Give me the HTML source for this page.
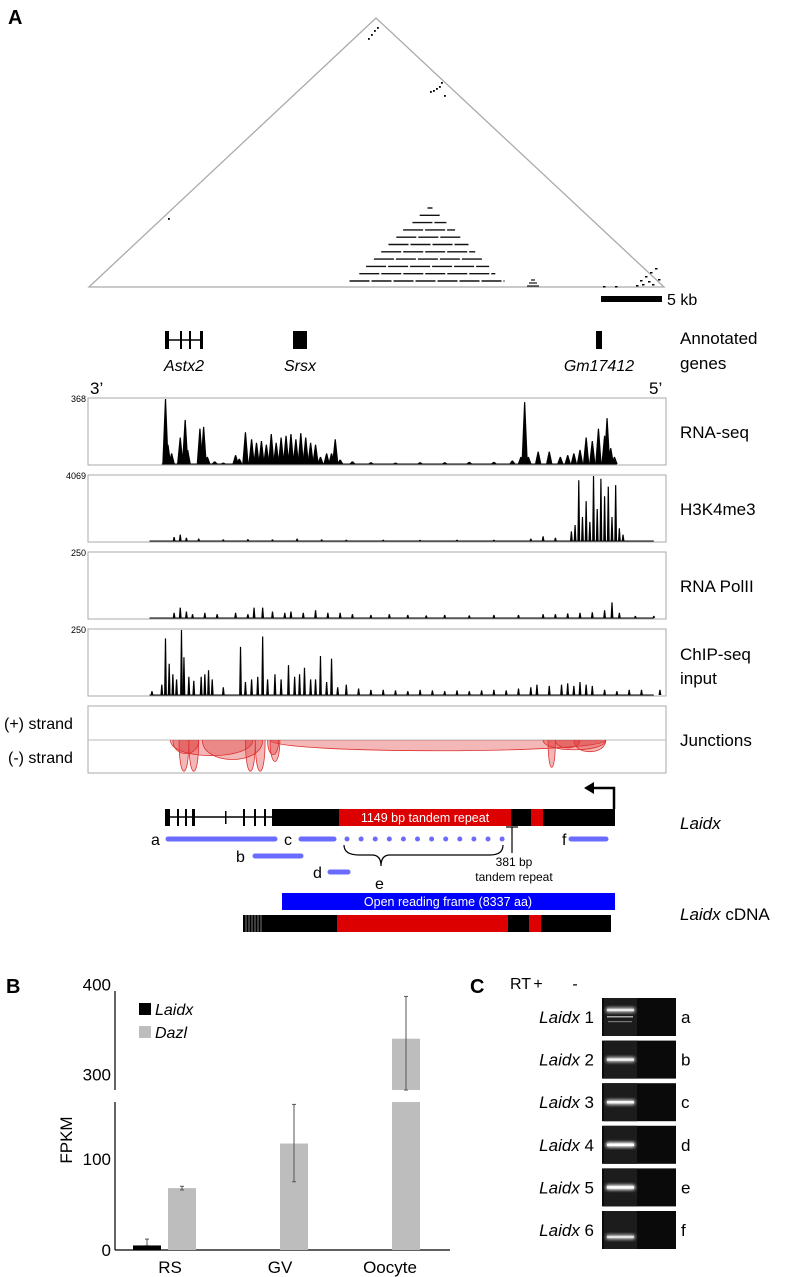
<!DOCTYPE html>
<html><head><meta charset="utf-8">
<style>
html,body{margin:0;padding:0;background:#fff;}
svg{display:block;font-family:"Liberation Sans",sans-serif;}
</style></head>
<body>
<svg id="fig" width="800" height="1277" viewBox="0 0 800 1277" xmlns="http://www.w3.org/2000/svg">
<defs>
<filter id="blur1" x="-20%" y="-50%" width="140%" height="200%"><feGaussianBlur stdDeviation="1.6"/></filter>
</defs>
<!-- Panel A -->
<text x="8" y="24" font-size="20" font-weight="bold">A</text>
<g id="hic">
<polygon points="89,287 376,18 664,287" fill="none" stroke="#aaa" stroke-width="1.3"/>
</g>
<rect x="601" y="296" width="61" height="6" fill="#000"/>
<text x="667" y="305" font-size="16">5 kb</text>

<g>
<rect x="165" y="331" width="4" height="18" fill="#000"/>
<line x1="165" y1="340" x2="203" y2="340" stroke="#000" stroke-width="1.5"/>
<rect x="180" y="331" width="2" height="18" fill="#000"/>
<rect x="189" y="331" width="2" height="18" fill="#000"/>
<rect x="200" y="331" width="3" height="18" fill="#000"/>
<rect x="293" y="331" width="14" height="18" fill="#000"/>
<rect x="596" y="331" width="6" height="18" fill="#000"/>
<text x="184" y="371" font-size="16" font-style="italic" text-anchor="middle">Astx2</text>
<text x="300" y="371" font-size="16" font-style="italic" text-anchor="middle">Srsx</text>
<text x="599" y="371" font-size="16" font-style="italic" text-anchor="middle">Gm17412</text>
</g>
<text x="680" y="344" font-size="17">Annotated</text>
<text x="680" y="369" font-size="17">genes</text>
<text x="90" y="394" font-size="17">3’</text>
<text x="649" y="394" font-size="17">5’</text>

<g id="tracks"></g>
<text x="680" y="438" font-size="17">RNA-seq</text>
<text x="680" y="515" font-size="17">H3K4me3</text>
<text x="680" y="592" font-size="17">RNA PolII</text>
<text x="680" y="660" font-size="17">ChIP-seq</text>
<text x="680" y="684" font-size="17">input</text>

<g id="junctions">
<rect x="88" y="706" width="578" height="67" fill="none" stroke="#aaa" stroke-width="1"/>
<line x1="88" y1="740" x2="666" y2="740" stroke="#bbb" stroke-width="1"/>
</g>
<text x="4" y="729" font-size="16">(+) strand</text>
<text x="8" y="763" font-size="16">(-) strand</text>
<text x="680" y="746" font-size="17">Junctions</text>

<!-- Laidx gene model -->
<g>
<polyline points="614,809 614,788 592,788" fill="none" stroke="#000" stroke-width="2.5"/>
<polygon points="584,788 594,782 594,794" fill="#000"/>
<line x1="165" y1="817" x2="272" y2="817" stroke="#000" stroke-width="1.5"/>
<rect x="165" y="809" width="5" height="17" fill="#000"/>
<rect x="177" y="809" width="2" height="17" fill="#000"/>
<rect x="185" y="809" width="2" height="17" fill="#000"/>
<rect x="192" y="809" width="3" height="17" fill="#000"/>
<rect x="225" y="811" width="1.5" height="13" fill="#000"/>
<rect x="243" y="809" width="2" height="17" fill="#000"/>
<rect x="254" y="809" width="2" height="17" fill="#000"/>
<rect x="264" y="809" width="2" height="17" fill="#000"/>
<rect x="272" y="809" width="343" height="17" fill="#000"/>
<rect x="339" y="809" width="172" height="17" fill="#dd0000"/>
<rect x="531" y="809" width="12" height="17" fill="#dd0000"/>
<text x="425" y="822" font-size="12.5" fill="#fff" text-anchor="middle">1149 bp tandem repeat</text>
</g>
<g stroke="#6b6bff" stroke-width="5" stroke-linecap="round">
<line x1="168" y1="839" x2="275" y2="839"/>
<line x1="301" y1="839" x2="334" y2="839"/>
<line x1="571" y1="839" x2="606" y2="839"/>
<line x1="255" y1="856" x2="301" y2="856"/>
<line x1="330" y1="872" x2="348" y2="872"/>
<line x1="347" y1="839" x2="504" y2="839" stroke-dasharray="0 14.1"/>
</g>
<g font-size="16">
<text x="151" y="845">a</text><text x="236" y="862">b</text><text x="284" y="845">c</text>
<text x="313" y="878">d</text><text x="375" y="889">e</text><text x="562" y="845">f</text>
</g>
<path d="M344,845 Q344,855 359,855 L372,855 Q381,855 381,866 Q381,855 390,855 L490,855 Q503,855 503,845" fill="none" stroke="#000" stroke-width="1.2"/>
<line x1="512" y1="827" x2="512" y2="853" stroke="#000" stroke-width="1.2"/>
<line x1="506" y1="827" x2="518" y2="827" stroke="#000" stroke-width="1.2"/>
<text x="514" y="866" font-size="12" text-anchor="middle">381 bp</text>
<text x="514" y="881" font-size="12" text-anchor="middle">tandem repeat</text>
<text x="680" y="829" font-size="17" font-style="italic">Laidx</text>

<rect x="282" y="893" width="333" height="17" fill="#0000ff"/>
<text x="448" y="906" font-size="12.5" fill="#fff" text-anchor="middle">Open reading frame (8337 aa)</text>
<g>
<rect x="243" y="915" width="368" height="17" fill="#000"/>
<rect x="337" y="915" width="171" height="17" fill="#dd0000"/>
<rect x="529" y="915" width="12" height="17" fill="#dd0000"/>
<g stroke="#ccc" stroke-width="0.6"><line x1="246" y1="915" x2="246" y2="932"/><line x1="249" y1="915" x2="249" y2="932"/><line x1="252" y1="915" x2="252" y2="932"/><line x1="255" y1="915" x2="255" y2="932"/><line x1="258" y1="915" x2="258" y2="932"/><line x1="261" y1="915" x2="261" y2="932"/></g>
</g>
<text x="680" y="920" font-size="17"><tspan font-style="italic">Laidx</tspan> cDNA</text>

<!-- Panel B -->
<text x="6" y="993" font-size="20" font-weight="bold">B</text>
<g id="barchart"></g>

<!-- Panel C -->
<text x="470" y="993" font-size="20" font-weight="bold">C</text>
<text x="510" y="989" font-size="16">RT</text>
<text x="538" y="989" font-size="16" text-anchor="middle">+</text>
<text x="575" y="989" font-size="16" text-anchor="middle">-</text>
<g id="gel"></g>

<script>
// ---------- Track data (position in kb, signal value) ----------
const rnaPos = [6.3,6.5,6.8,7.5,7.9,8.1,9.1,9.4,9.7,10.3,11,12,12.3,12.8,13.3,13.7,14.1,14.5,14.9,15.3,15.7,16.1,16.5,16.9,17.3,17.7,18.1,18.5,18.9,19.4,19.8,20.1,20.5,21.5,23,25,27,29,31,33,34.5,35.2,35.5,35.8,36.6,37.5,38.4,39,39.5,40,40.5,41,41.5,42.0,42.2,42.5,42.8];
const rnaVal = [368,110,60,150,250,80,200,210,40,15,8,50,30,180,140,120,130,110,170,120,150,160,170,140,175,150,120,110,40,60,60,140,25,15,10,8,10,10,12,12,20,40,350,40,70,70,40,50,60,80,150,130,200,160,260,90,40];
const h3Pos = [7.0,7.5,8,9,11,13,15,17,19,21,24,27,30,33,36,37,38,39.3,39.6,39.9,40.2,40.5,40.8,41.1,41.4,41.7,42.0,42.3,42.6,42.9,43.2,43.5];
const h3Val = [250,400,200,150,100,120,100,150,100,80,80,70,80,80,150,300,200,600,1000,3800,1500,2500,1200,4069,2000,3900,2800,3400,1500,3500,800,400];
const polPos = [7.0,7.5,8.0,8.5,9.5,10.5,12,13,13.5,14.2,15,16,16.5,17.5,18.5,19.5,20.5,21.5,23,24.5,26,27.5,29,31,33,35,37,38,39,40,41,42,42.6,43.2,44.5,46];
const polVal = [20,40,25,15,20,15,20,15,40,40,25,20,25,20,30,20,20,15,12,15,12,10,12,10,12,12,15,15,18,20,22,30,60,20,8,8];
const chipPos = [5.2,6.0,6.3,6.6,6.9,7.2,7.6,7.8,8.2,8.6,9.2,9.5,9.8,10.1,11,12.4,12.8,13.3,13.8,14.2,14.6,15.2,15.7,16.3,16.8,17.2,17.6,18.1,18.5,18.9,19.4,19.8,20.3,21,22,23,24,25,26,27,28,29,30,31,32,33,34,35,36,36.5,37.5,38.5,39,39.5,40,40.5,41,42,43,44,45,46.5];
const chipVal = [15,40,218,120,80,60,250,145,70,55,70,80,95,60,30,185,50,60,70,225,60,80,60,115,70,80,105,60,60,150,50,140,30,40,25,20,20,18,15,20,18,15,18,15,18,20,18,25,30,40,35,40,45,35,50,40,35,20,15,20,20,20];
const trackMax = [368, 4069, 250, 250];
const trackMaxLabels = ["368","4069","250","250"];
// junctions: start kb, end kb, read depth
const juncStart = [6.7,6.9,9.3,14.6,14.8,37.0,38.0,39.5,7.4,8.2,12.8,13.6,14.8,37.4];
const juncEnd   = [13.4,9.0,14.2,15.5,42.1,42.1,40.0,42.1,8.2,9.0,13.6,14.4,15.6,38.0];
const juncDepth = [16,14,20,15,11,10,8,12,32,32,32,32,22,28];

const NS='http://www.w3.org/2000/svg';
function mk(tag, attrs, parent){const e=document.createElementNS(NS,tag);for(const k in attrs)e.setAttribute(k,attrs[k]);if(parent)parent.appendChild(e);return e;}
const xKb = kb => 88 + kb*12.3;

// Hi-C decorations
const hic=document.getElementById('hic');
const hicRowWidths=[5,20,34,52,65,80,94,108,123,136,155];
hicRowWidths.forEach((w,i)=>{
  const y=208+i*7.3, cx=430-i*0.3;
  const l=mk('line',{x1:cx-w/2,y1:y,x2:cx+w/2,y2:y,stroke:'#111','stroke-width':1.4,'stroke-dasharray':'20 2'},hic);
  
  
});
[[368,38],[371,34],[374,30],[377,27],[430,91],[433,90],[436,88],[439,86],[441,82],[444,95],[168,218]].forEach(p=>{
  const c=mk('rect',{x:p[0],y:p[1],width:1.8,height:1.8,fill:'#000'},hic);
  
  
});
[[531,286,12],[531,283,8],[531,280,4]].forEach(p=>{
  const l=mk('line',{x1:p[0]+2-p[2]/2,y1:p[1],x2:p[0]+2+p[2]/2,y2:p[1],stroke:'#111','stroke-width':1.2},hic);
  
  
});
[[640,280],[645,276],[650,272],[655,268],[642,284],[652,284],[658,279],[636,285],[648,281],[603,286],[615,286]].forEach(p=>{
  const c=mk('rect',{x:p[0],y:p[1],width:2.5,height:1.5,fill:'#000'},hic);
  
  
});

// Tracks
const tracks=document.getElementById('tracks');
const boxes=[[398,465],[475,542],[552,619],[629,696]];
const tPos=[rnaPos,h3Pos,polPos,chipPos], tVal=[rnaVal,h3Val,polVal,chipVal];
const tName=['rnaseq','h3k4me3','polii','chip-input'];
boxes.forEach((b,i)=>{
  const r=mk('rect',{x:88,y:b[0],width:578,height:b[1]-b[0],fill:'none',stroke:'#aaa','stroke-width':1},tracks);
  
  
  const t=mk('text',{x:86,y:b[0]+4,'font-size':9,'text-anchor':'end'},tracks);
  t.textContent=trackMaxLabels[i];
  
  
  const bottom=b[1]-1, h=b[1]-b[0]-2;
  const yS=v=>bottom - v/trackMax[i]*h;
  tPos[i].forEach((p,j)=>{
    const x=xKb(p), v=tVal[i][j], y=yS(v);
    const w = i===0 ? 3.2 : 1.4;
    const s=mk('polygon',{points:`${x-w},${bottom} ${x-0.6},${y} ${x+0.6},${y} ${x+w},${bottom}`,fill:'#000'},tracks);
    
    
  });
  mk('line',{x1:xKb(i===0?6:5),y1:bottom,x2:xKb(i===0?43:46),y2:bottom,stroke:'#000','stroke-width':1},tracks);
});

// Junction arcs
const jg=document.getElementById('junctions');
juncStart.forEach((s,i)=>{
  const x1=xKb(s), x2=xKb(juncEnd[i]), d=juncDepth[i];
  const p=mk('path',{d:`M${x1},740 C${x1},${740+d*1.3} ${x2},${740+d*1.3} ${x2},740`,fill:'rgba(220,50,50,0.35)',stroke:'#e03030','stroke-width':0.8},jg);
  
  
});

// ---------- Bar chart (panel B) ----------
const categories=['RS','GV','Oocyte'];
const laidxValues=[5,0,0];
const laidxErr=[7,0,0];
const dazlValues=[68,117,340];
const dazlErrLow=[66,75,283];
const dazlErrHigh=[70,160,387];
const tickValues=[0,100,300,400];
const tickLabels=['0','100','300','400'];
const bc=document.getElementById('barchart');
function yB(v){ if(v<=163) return 1250 - v*0.91; if(v>=283) return 1090 - (v-283)*0.9; return 1096; }
const catX=[166,278,390];
const xa=mk('line',{x1:115,y1:1250,x2:450,y2:1250,stroke:'#000','stroke-width':1.2},bc);


const ya1=mk('line',{x1:115,y1:1250,x2:115,y2:1102,stroke:'#000','stroke-width':1.2},bc);


const ya2=mk('line',{x1:115,y1:1090,x2:115,y2:991,stroke:'#000','stroke-width':1.2},bc);


tickValues.forEach((v,i)=>{
  const t=mk('text',{x:111,y:yB(v)+6,'font-size':17,'text-anchor':'end'},bc);
  t.textContent=tickLabels[i];
  
  
});
const yt=mk('text',{x:72,y:1140,'font-size':17,'text-anchor':'middle',transform:'rotate(-90 72 1140)'},bc);
yt.textContent='FPKM';


function bar(x,v,fill,name){
  if(v<=0) return;
  if(v<=163){
    const r=mk('rect',{x:x,y:yB(v),width:28,height:1250-yB(v),fill:fill},bc);
    
    
  } else {
    const r=mk('rect',{x:x,y:1102,width:28,height:148,fill:fill},bc);
    
    
    const r2=mk('rect',{x:x,y:yB(v),width:28,height:1090-yB(v),fill:fill},bc);
    
    
  }
}
function err(x,lo,hi,name){
  const g=mk('g',{stroke:'#555','stroke-width':1},bc);
  
  
  mk('line',{x1:x,y1:yB(lo),x2:x,y2:yB(hi)},g);
  mk('line',{x1:x-2,y1:yB(lo),x2:x+2,y2:yB(lo)},g);
  mk('line',{x1:x-2,y1:yB(hi),x2:x+2,y2:yB(hi)},g);
}
categories.forEach((c,i)=>{
  const cx=catX[i];
  bar(cx-33,laidxValues[i],'#000','bar-laidx-'+c.toLowerCase());
  if(laidxValues[i]>0) err(cx-19,laidxValues[i],laidxValues[i]+laidxErr[i],'error-bar-laidx-'+c.toLowerCase());
  bar(cx+2,dazlValues[i],'#bdbdbd','bar-dazl-'+c.toLowerCase());
  err(cx+16,dazlErrLow[i],dazlErrHigh[i],'error-bar-dazl-'+c.toLowerCase());
  const t=mk('text',{x:cx+(i===0?4:(i===1?2:0)),y:1273,'font-size':17,'text-anchor':'middle'},bc);
  t.textContent=c;
  
  
});
const lg=mk('g',{},bc);


mk('rect',{x:139,y:1003,width:12,height:12,fill:'#000'},lg);
mk('rect',{x:139,y:1026,width:12,height:12,fill:'#bdbdbd'},lg);
const l1=mk('text',{x:155,y:1015,'font-size':16,'font-style':'italic'},lg); l1.textContent='Laidx';


const l2=mk('text',{x:155,y:1038,'font-size':16,'font-style':'italic'},lg); l2.textContent='Dazl';



// ---------- Gel (panel C) ----------
const gelLetters=['a','b','c','d','e','f'];
const bandIntensity=[0.75,0.8,0.85,1.0,1.0,0.7];
const gel=document.getElementById('gel');
gelLetters.forEach((L,i)=>{
  const y=998+i*42.6;
  const g=mk('g',{},gel);
  
  
  mk('rect',{x:602,y:y,width:74,height:38,fill:'#0a0a0a'},g);
  mk('rect',{x:604,y:y,width:33,height:38,fill:'#1c1c1c'},g);
  const by = y + (i===0?12:(i===5?26:19));
  mk('rect',{x:606,y:by-2.5,width:29,height:5,rx:2,fill:'#fff',opacity:bandIntensity[i],filter:'url(#blur1)'},g);
  mk('rect',{x:607,y:by-1.2,width:27,height:2.4,fill:'#fff',opacity:bandIntensity[i]},g);
  if(i===0){ mk('rect',{x:607,y:y+18,width:26,height:1.5,fill:'#aaa'},g); mk('rect',{x:608,y:y+23,width:24,height:1.2,fill:'#777'},g); }
  const t=mk('text',{x:594,y:y+25,'font-size':17,'text-anchor':'end'},g);
  const ts=mk('tspan',{'font-style':'italic'},t);
  ts.textContent='Laidx';
  t.appendChild(document.createTextNode(' '+(i+1)));
  
  
  const l=mk('text',{x:681,y:y+25,'font-size':17},g);
  l.textContent=L;
  
  
});
</script>
</svg>
</body></html>
